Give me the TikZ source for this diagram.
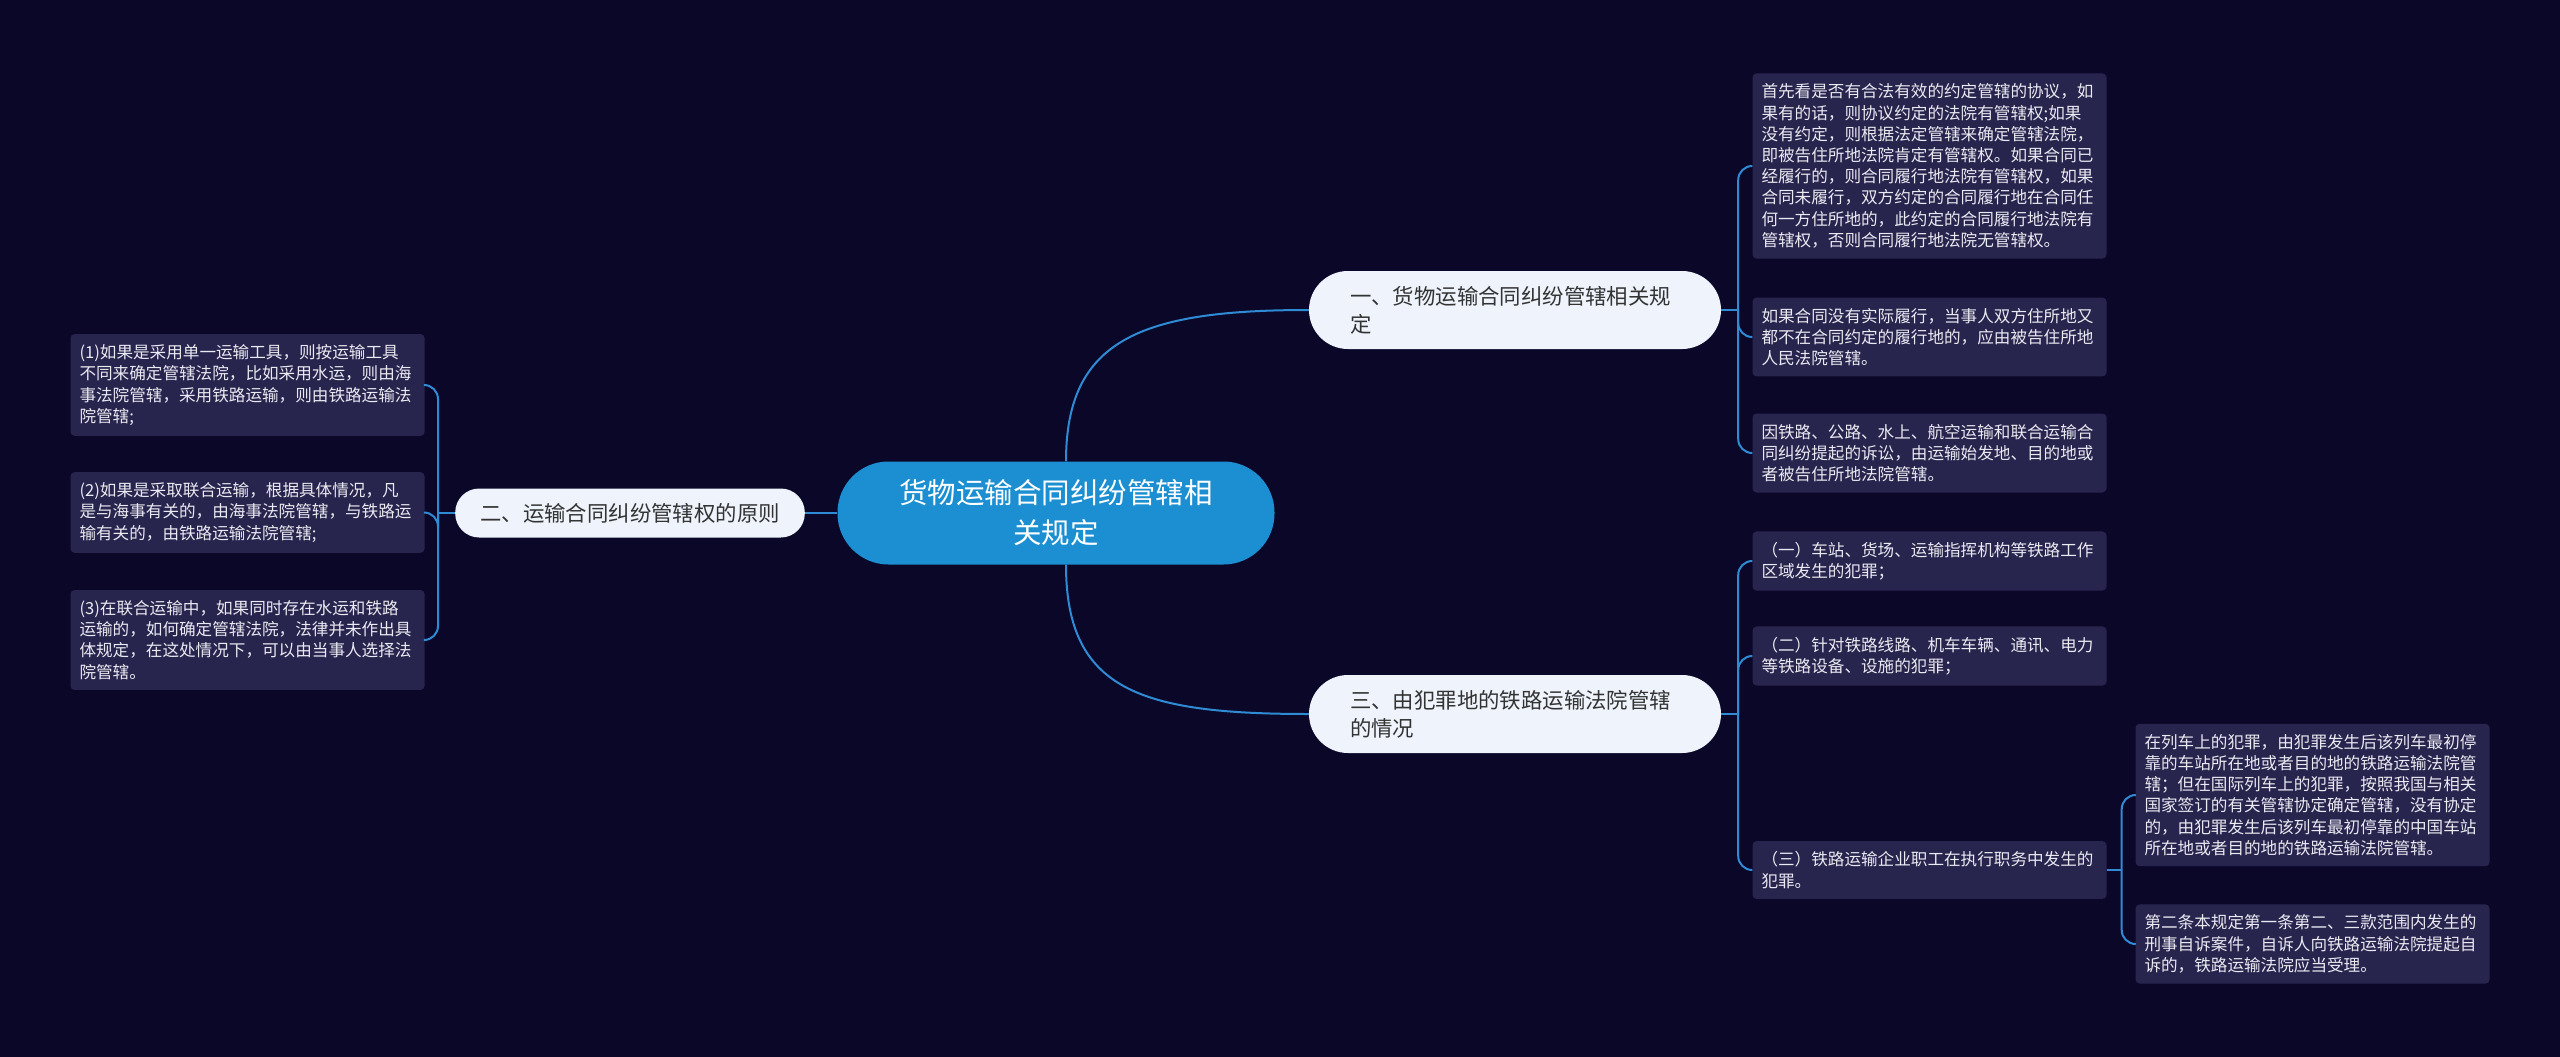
\documentclass[tikz,border=0pt]{standalone}
\usepackage{fontspec}
\newfontfamily\cjk{Noto Sans CJK SC}
\usetikzlibrary{calc}
\definecolor{bg}{RGB}{11,7,41}
\definecolor{leaffill}{RGB}{39,36,77}
\definecolor{topicfill}{RGB}{238,243,252}
\definecolor{rootfill}{RGB}{27,143,209}
\definecolor{linkblue}{RGB}{46,139,212}
\definecolor{darktext}{RGB}{51,51,51}
\definecolor{lighttext}{RGB}{234,234,242}
\tikzset{
    root/.style={fill=rootfill, text=white, rounded corners=51pt, align=center,
        minimum width=437pt, minimum height=103pt, inner sep=0pt,
        font=\cjk\fontsize{28.5}{40}\selectfont},
    topic/.style={fill=topicfill, text=darktext, rounded corners=24pt,
        font=\cjk\fontsize{21.4}{28.3}\selectfont},
    leaf/.style={fill=leaffill, text=lighttext, rounded corners=4pt, align=left,
        text width=336pt, inner xsep=9pt, inner ysep=10.5pt,
        font=\cjk\fontsize{16.6}{21.2}\selectfont},
    link/.style={linkblue, line width=2pt}
}
\begin{document}
\begin{tikzpicture}[x=1pt, y=-1pt]
    % Фон
    \fill[bg] (0,0) rectangle (2560,1057);
    \useasboundingbox (0,0) rectangle (2560,1057);

    % Центральная тема
    \node[root] (root) at (1056,513) {货物运输合同纠纷管辖相\\关规定};

    % Ветви
    \node[topic, align=left, text width=330pt, inner xsep=41pt, minimum height=78pt, rounded corners=39pt]
        (t1) at (1515,310) {一、货物运输合同纠纷管辖相关规\\定};
    \node[topic, inner xsep=25pt, minimum height=49pt] (t2) at (630,513) {二、运输合同纠纷管辖权的原则};
    \node[topic, align=left, text width=330pt, inner xsep=41pt, minimum height=78pt, rounded corners=39pt]
        (t3) at (1515,714) {三、由犯罪地的铁路运输法院管辖\\的情况};

    \draw[link] ([xshift=10pt]root.north) .. controls (1066,340) and (1140,310) .. (t1.west);
    \draw[link] ([xshift=10pt]root.south) .. controls (1066,690) and (1140,714) .. (t3.west);
    \draw[link] (root.west) -- (t2.east);

    % Ветвь 1
    \node[leaf] (a1) at (1929.5,166) {首先看是否有合法有效的约定管辖的协议，如\\
        果有的话，则协议约定的法院有管辖权;如果\\
        没有约定，则根据法定管辖来确定管辖法院，\\
        即被告住所地法院肯定有管辖权。如果合同已\\
        经履行的，则合同履行地法院有管辖权，如果\\
        合同未履行，双方约定的合同履行地在合同任\\
        何一方住所地的，此约定的合同履行地法院有\\
        管辖权，否则合同履行地法院无管辖权。};
    \node[leaf] (a2) at (1929.5,337) {如果合同没有实际履行，当事人双方住所地又\\
        都不在合同约定的履行地的，应由被告住所地\\
        人民法院管辖。};
    \node[leaf] (a3) at (1929.5,453) {因铁路、公路、水上、航空运输和联合运输合\\
        同纠纷提起的诉讼，由运输始发地、目的地或\\
        者被告住所地法院管辖。};

    \draw[link] (t1.east) -- ++(17,0) coordinate (j1);
    \foreach \n in {a1,a2,a3}
        \draw[link, rounded corners=14pt] (j1) |- (\n.west);

    % Ветвь 2
    \node[leaf] (b1) at (247.5,385) {(1)如果是采用单一运输工具，则按运输工具\\
        不同来确定管辖法院，比如采用水运，则由海\\
        事法院管辖，采用铁路运输，则由铁路运输法\\
        院管辖;};
    \node[leaf] (b2) at (247.5,512.5) {(2)如果是采取联合运输，根据具体情况，凡\\
        是与海事有关的，由海事法院管辖，与铁路运\\
        输有关的，由铁路运输法院管辖;};
    \node[leaf] (b3) at (247.5,640) {(3)在联合运输中，如果同时存在水运和铁路\\
        运输的，如何确定管辖法院，法律并未作出具\\
        体规定，在这处情况下，可以由当事人选择法\\
        院管辖。};

    \draw[link] (t2.west) -- ++(-17,0) coordinate (j2);
    \foreach \n in {b1,b2,b3}
        \draw[link, rounded corners=14pt] (j2) |- (\n.east);

    % Ветвь 3
    \node[leaf] (c1) at (1929.5,561) {（一）车站、货场、运输指挥机构等铁路工作\\
        区域发生的犯罪；};
    \node[leaf] (c2) at (1929.5,656) {（二）针对铁路线路、机车车辆、通讯、电力\\
        等铁路设备、设施的犯罪；};
    \node[leaf] (c3) at (1929.5,870) {（三）铁路运输企业职工在执行职务中发生的\\
        犯罪。};

    \draw[link] (t3.east) -- ++(17,0) coordinate (j3);
    \foreach \n in {c1,c2,c3}
        \draw[link, rounded corners=14pt] (j3) |- (\n.west);

    \node[leaf] (d1) at (2312.5,795) {在列车上的犯罪，由犯罪发生后该列车最初停\\
        靠的车站所在地或者目的地的铁路运输法院管\\
        辖；但在国际列车上的犯罪，按照我国与相关\\
        国家签订的有关管辖协定确定管辖，没有协定\\
        的，由犯罪发生后该列车最初停靠的中国车站\\
        所在地或者目的地的铁路运输法院管辖。};
    \node[leaf] (d2) at (2312.5,944) {第二条本规定第一条第二、三款范围内发生的\\
        刑事自诉案件，自诉人向铁路运输法院提起自\\
        诉的，铁路运输法院应当受理。};

    \draw[link] (c3.east) -- ++(15,0) coordinate (j4);
    \foreach \n in {d1,d2}
        \draw[link, rounded corners=14pt] (j4) |- (\n.west);
\end{tikzpicture}
\end{document}
